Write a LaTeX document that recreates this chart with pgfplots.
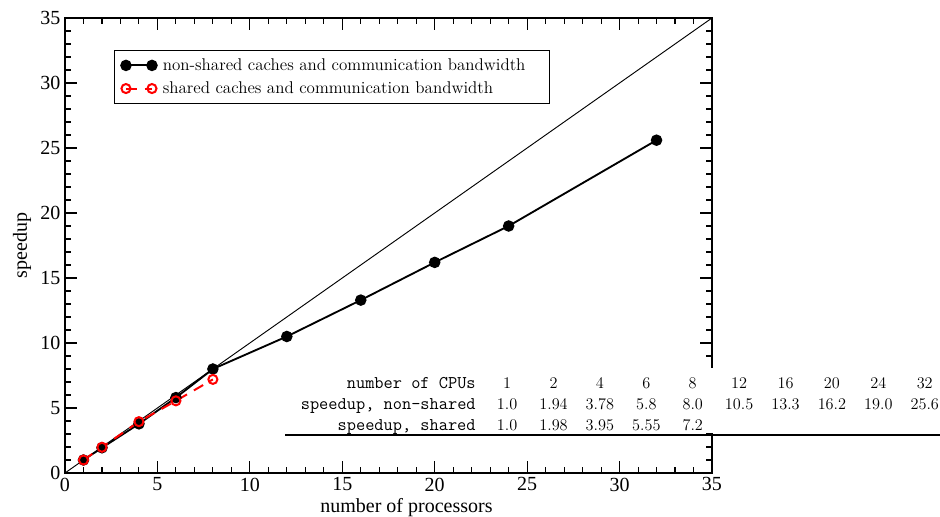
\documentclass[border=0pt]{standalone}
\usepackage{pgfplots}
\pgfplotsset{compat=1.18}
\usepackage{fontspec}
\newfontfamily\timesfont{Liberation Serif}
\newcommand\T[1]{{\ttfamily\fontsize{13.4}{16.1}\selectfont #1}}
\newcommand\C[1]{\makebox[34.8pt]{#1}}
\begin{document}
\begin{tikzpicture}[x=1pt,y=1pt]
\path[use as bounding box] (-48.75,-33) rectangle (656.25,354.75);
\begin{axis}[
  at={(0,0)}, anchor=south west, scale only axis,
  width=485.25pt, height=341.25pt,
  xmin=0,xmax=35,ymin=0,ymax=35,
  xtick={0,5,...,35}, ytick={0,5,...,35},
  minor x tick num=4, minor y tick num=4,
  tick align=inside, major tick length=9pt, minor tick length=4.5pt,
  tick style={black, line width=0.8pt},
  axis line style={line width=1.2pt},
  ticklabel style={font=\timesfont\fontsize{15}{18}\selectfont},
  /pgf/number format/assume math mode=true,
  xlabel={number of processors}, ylabel={speedup},
  label style={font=\timesfont\fontsize{15}{18}\selectfont},
  xlabel style={xshift=13.5pt, yshift=1.5pt},
  legend style={at={(0.0757,0.9297)}, anchor=north west, draw=black, line width=0.8pt,
    font=\fontsize{12.75}{15}\selectfont, cells={anchor=west}, inner xsep=5pt, inner ysep=4pt,
    row sep=3pt, column sep=2.5pt},
  legend image code/.code={\draw[#1] plot coordinates {(0pt,0pt) (19.5pt,0pt)};},
]
\addplot[black, line width=0.7pt, forget plot] coordinates {(0,0) (35,35)};
\addplot[black, line width=1.4pt, mark=*, mark size=3.6pt] coordinates {
(1,1.0) (2,1.94) (4,3.78) (6,5.8) (8,8.0) (12,10.5) (16,13.3) (20,16.2) (24,19.0) (32,25.6)};
\addlegendentry{non-shared caches and communication bandwidth\rule{11pt}{0pt}}
\addplot[red, line width=1.5pt, dash pattern=on 8pt off 6pt, mark=o, mark size=3.4pt, mark options={solid}] coordinates {
(1,1.0) (2,1.98) (4,3.95) (6,5.55) (8,7.2)};
\addlegendentry{shared caches and communication bandwidth}
\end{axis}
\fill[white] (165,30) rectangle (656.25,78.75);
\draw[line width=1pt] (165,28.5) -- (656.25,28.5);
\node[anchor=base east, inner sep=0pt, font=\fontsize{12.2}{16.1}\selectfont] at (662.4,31.5) {%
\begin{tabular}[b]{@{}r@{\hspace{6.2pt}}*{10}{@{}c@{}}@{}}
\T{number of CPUs} & \C{1} & \C{2} & \C{4} & \C{6} & \C{8} & \C{12} & \C{16} & \C{20} & \C{24} & \C{32}\\
\T{speedup, non-shared} & \C{1.0} & \C{1.94} & \C{3.78} & \C{5.8} & \C{8.0} & \C{10.5} & \C{13.3} & \C{16.2} & \C{19.0} & \C{25.6}\\
\T{speedup, shared} & \C{1.0} & \C{1.98} & \C{3.95} & \C{5.55} & \C{7.2} & & & & & \\
\end{tabular}};
\end{tikzpicture}
\end{document}
